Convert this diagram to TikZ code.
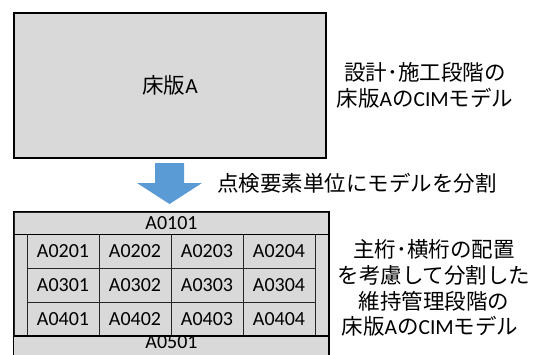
\documentclass[tikz,border=0pt]{standalone}
\usepackage{fontspec}
\setmainfont{Carlito}
\newfontfamily\cjk{Noto Sans CJK JP}
\definecolor{slab}{HTML}{D9D9D9}
\definecolor{arrowblue}{HTML}{5B9BD5}
\begin{document}
\begin{tikzpicture}[x=1pt,y=-1pt,
  cellbox/.style={draw=black!85, line width=0.9pt, fill=slab, minimum width=72pt,
    minimum height=34pt, inner sep=0pt, font=\fontsize{20}{24}\selectfont},
  rowbox/.style={draw=black!85, line width=0.9pt, fill=slab, minimum width=315pt,
    minimum height=22pt, inner sep=0pt, font=\fontsize{20}{24}\selectfont},
  stripbox/.style={draw=black!85, line width=0.9pt, fill=slab, minimum height=102pt, inner sep=0pt},
  jp/.style={anchor=base, inner sep=0pt, font=\fontsize{21.5}{26}\selectfont}]
\useasboundingbox (0,0) rectangle (543,354);
\clip (0,0) rectangle (543,354);
% top slab
\node[draw=black, line width=1.2pt, fill=slab, minimum width=312pt, minimum height=145pt,
  inner sep=0pt, font=\fontsize{21.5}{26}\selectfont] (slab) at (170,85.5) {{\cjk 床版}A};
\node[jp] (t1) at (425,80) {\cjk 設計･施工段階の};
\node[jp] (t2) at (425,106) {{\cjk 床版}A{\cjk の}CIM{\cjk モデル}};
% arrow
\fill[arrowblue] (155,163) -- (184,163) -- (184,183) -- (202,183) -- (169.5,204)
  -- (137,183) -- (155,183) -- cycle;
\node[jp, anchor=base west] (split) at (217,191.5) {\cjk 点検要素単位にモデルを分割};
% divided slab
\fill[slab] (14,336) rectangle (329,362);
\node[rowbox] (r1) at (171.5,223) {A0101};
\node[stripbox, minimum width=13pt] (sl) at (20.5,285) {};
\node[stripbox, minimum width=14pt] (sr) at (322,285) {};
\foreach \r/\y in {2/251,3/285,4/319}{
  \foreach \c/\x in {1/63,2/135,3/207,4/279}{
    \node[cellbox] (c\r\c) at (\x,\y) {A0\r0\c};
  }
}
\node[rowbox, draw=none, fill=none, minimum height=12pt] (r5) at (171.5,342.5) {A0501};
\coordinate (bot) at (329,362);
\draw[black, line width=1.3pt] (r1.north west) rectangle (bot);
\draw[black, line width=1.1pt] (r1.south west) -- (r1.south east);
\draw[black, line width=1.1pt] (14,336) -- (329,336);
% right text
\node[jp] (b1) at (434,257) {\cjk 主桁･横桁の配置};
\node[jp] (b2) at (434,283) {\cjk を考慮して分割した};
\node[jp] (b3) at (434,309) {\cjk 維持管理段階の};
\node[jp] (b4) at (430,334) {{\cjk 床版}A{\cjk の}CIM{\cjk モデル}};
\end{tikzpicture}
\end{document}
